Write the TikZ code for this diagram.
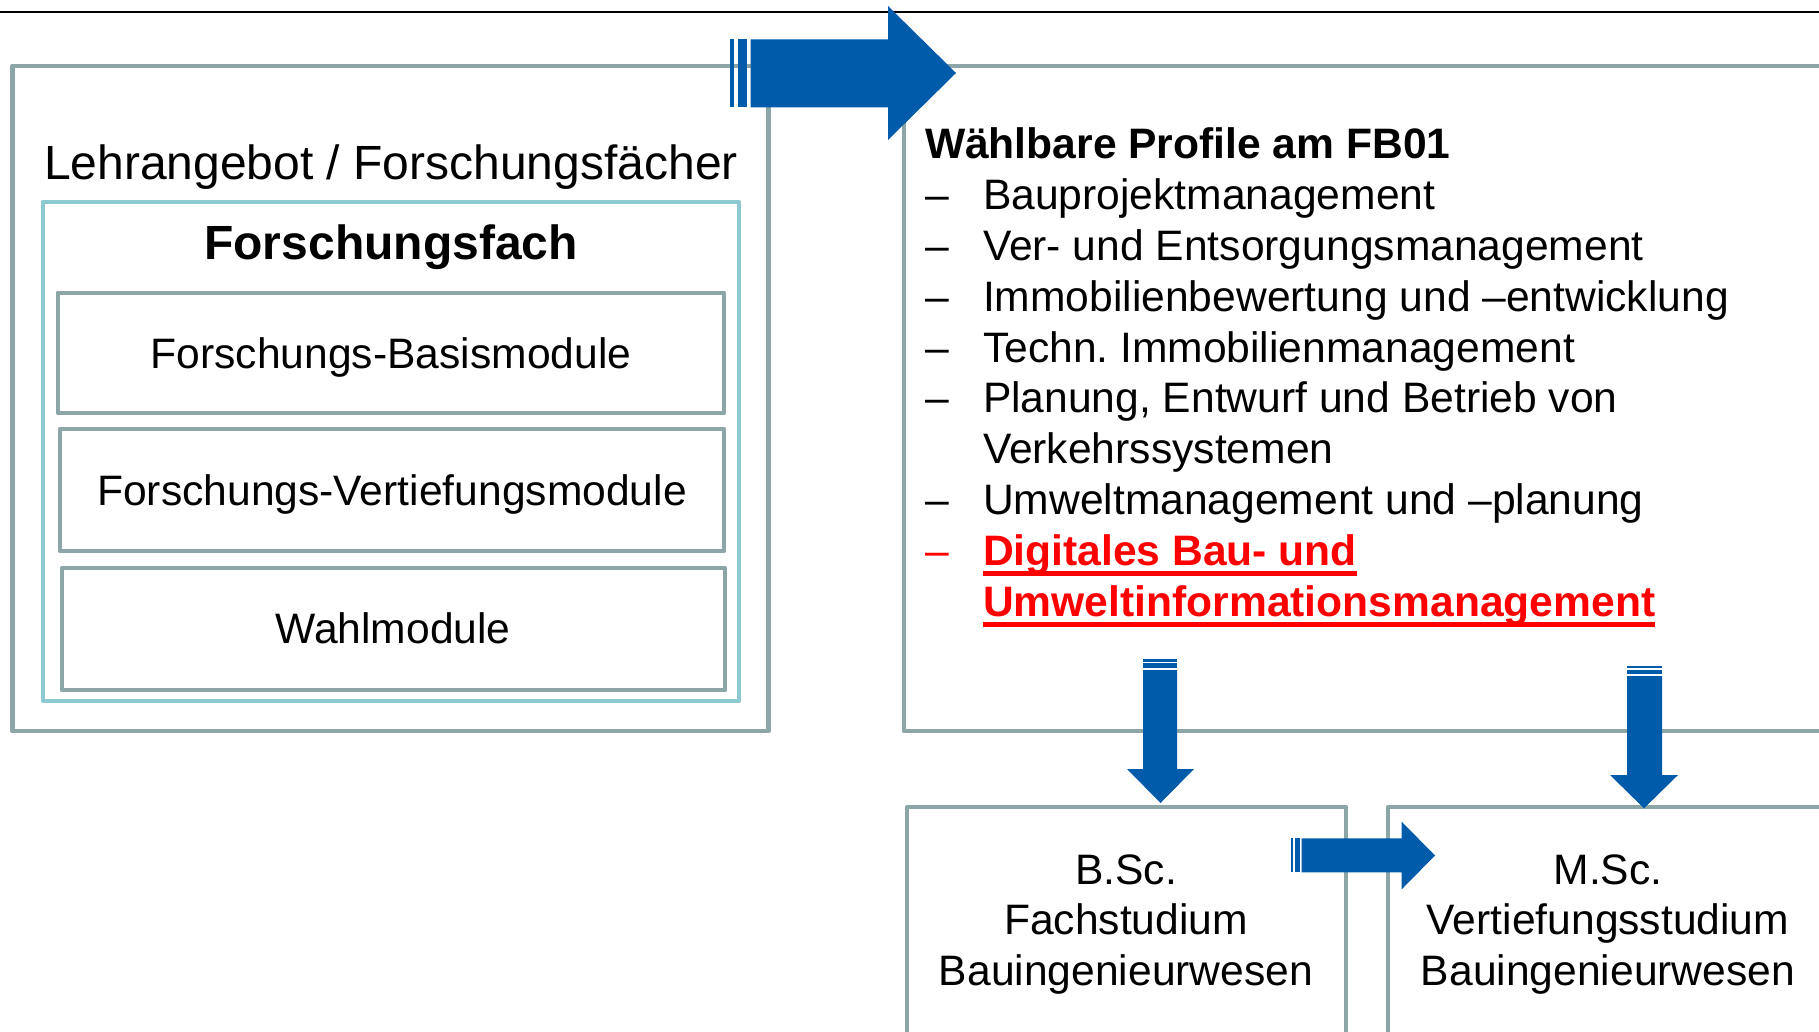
\documentclass[tikz,border=0pt]{standalone}
\usepackage{fontspec}
\setmainfont{Liberation Sans}
\frenchspacing
\definecolor{boxgray}{RGB}{140,165,166}
\definecolor{boxcyan}{RGB}{140,201,208}
\definecolor{arrowblue}{RGB}{0,91,170}
\definecolor{hired}{RGB}{255,0,0}
\tikzset{
  graybox/.style={draw=boxgray, line width=4.5pt, rectangle, inner sep=0pt, outer sep=0pt, line join=round},
  cyanbox/.style={draw=boxcyan, line width=4pt, rectangle, inner sep=0pt, outer sep=0pt, line join=round},
  txt/.style={inner sep=0pt, outer sep=0pt, font=\fontsize{42.6}{50.6}\selectfont},
  bigtxt/.style={inner sep=0pt, outer sep=0pt, font=\fontsize{48}{56}\selectfont},
  blockarrow/.style={fill=arrowblue, draw=none},
  underl/.style={draw=hired, line width=4.5pt}
}
\begin{document}
\begin{tikzpicture}[x=1pt,y=-1pt]
\useasboundingbox (0,0) rectangle (1819,1032);
\clip (0,0) rectangle (1819,1032);

% top rule
\coordinate (ruleL) at (0,12.5);
\coordinate (ruleR) at (1819,12.5);
\draw[line width=2pt] (ruleL) -- (ruleR);

% left panel
\node[graybox, minimum width=756.2pt, minimum height=665pt] (left) at (390.6,398.5) {};
\node[bigtxt, anchor=base] (lehr) at (391,180) {Lehrangebot / Forschungsfächer};
\node[cyanbox, minimum width=696.3pt, minimum height=499pt] (fach) at (390.9,451.5) {};
\node[bigtxt, anchor=base, font=\fontsize{48}{56}\selectfont\bfseries] (fachT) at (391,259.3) {Forschungsfach};
\node[graybox, minimum width=666.3pt, minimum height=120.3pt] (sub1) at (390.9,352.9) {};
\node[txt, anchor=base] (sub1T) at (391,368) {Forschungs-Basismodule};
\node[graybox, minimum width=664pt, minimum height=122pt] (sub2) at (392,490) {};
\node[txt, anchor=base] (sub2T) at (392,505) {Forschungs-Vertiefungsmodule};
\node[graybox, minimum width=663.3pt, minimum height=122pt] (sub3) at (393.4,629) {};
\node[txt, anchor=base] (sub3T) at (393,643) {Wahlmodule};

% right panel
\node[graybox, minimum width=946pt, minimum height=665pt] (right) at (1377,398.5) {};
\node[txt, anchor=base west, font=\fontsize{42.6}{50.6}\selectfont\bfseries] (head) at (925,158.3) {Wählbare Profile am FB01};
\node[txt, anchor=base west] (d1) at (925,210) {–};
\node[txt, anchor=base west] (i1) at (983,210) {Bauprojektmanagement};
\node[txt, anchor=base west] (d2) at (925,260.7) {–};
\node[txt, anchor=base west] (i2) at (983,260.7) {Ver- und Entsorgungsmanagement};
\node[txt, anchor=base west] (d3) at (925,311.4) {–};
\node[txt, anchor=base west] (i3) at (983,311.4) {Immobilienbewertung und –entwicklung};
\node[txt, anchor=base west] (d4) at (925,362.1) {–};
\node[txt, anchor=base west] (i4) at (983,362.1) {Techn. Immobilienmanagement};
\node[txt, anchor=base west] (d5) at (925,412.8) {–};
\node[txt, anchor=base west] (i5) at (983,412.8) {Planung, Entwurf und Betrieb von};
\node[txt, anchor=base west] (i5b) at (983,463.5) {Verkehrssystemen};
\node[txt, anchor=base west] (d6) at (925,514.2) {–};
\node[txt, anchor=base west] (i6) at (983,514.2) {Umweltmanagement und –planung};
\node[txt, anchor=base west, text=hired] (d7) at (925,565.5) {–};
\node[txt, anchor=base west, text=hired, font=\fontsize{42.6}{50.6}\selectfont\bfseries] (i7) at (983,565.5) {Digitales Bau- und};
\node[txt, anchor=base west, text=hired, font=\fontsize{42.6}{50.6}\selectfont\bfseries] (i7b) at (983,616.2) {Umweltinformationsmanagement};
\draw[underl] ([yshift=-8pt]i7.base west) -- ([yshift=-8pt]i7.base east);
\draw[underl] ([yshift=-8.5pt]i7b.base west) -- ([yshift=-8.5pt]i7b.base east);

% bottom boxes
\node[graybox, minimum width=439pt, minimum height=253pt] (bsc) at (1126.5,933.5) {};
\node[txt, anchor=base, align=center] (bscT) at (1126,985.5) {B.Sc.\\Fachstudium\\Bauingenieurwesen};
\node[graybox, minimum width=462pt, minimum height=253pt] (msc) at (1619,933.5) {};
\node[txt, anchor=base, align=center] (mscT) at (1608,985.5) {M.Sc.\\Vertiefungsstudium\\Bauingenieurwesen};

% top block arrow (left -> right)
\fill[blockarrow] (730,39.3) rectangle (734,107.3);
\fill[blockarrow] (737.7,39.3) rectangle (746.7,107.3);
\fill[blockarrow] (750.7,39.3) -- (888,39.3) -- (888,6) -- (956,73) -- (888,140) -- (888,107.3) -- (750.7,107.3) -- cycle;

% down arrow 1 (right -> bsc)
\fill[blockarrow] (1143,659.3) rectangle (1177,661.7);
\fill[blockarrow] (1143,663.3) rectangle (1177,667.7);
\fill[blockarrow] (1143,670) -- (1177,670) -- (1177,769) -- (1194,769) -- (1160.5,803) -- (1127,769) -- (1143,769) -- cycle;

% down arrow 2 (right -> msc)
\fill[blockarrow] (1627,665.7) rectangle (1662,667.9);
\fill[blockarrow] (1627,670) rectangle (1662,674.3);
\fill[blockarrow] (1627,676) -- (1662,676) -- (1662,775) -- (1678,775) -- (1644,808.3) -- (1610,775) -- (1627,775) -- cycle;

% right arrow (bsc -> msc)
\fill[blockarrow] (1291,838.3) rectangle (1293.3,872.3);
\fill[blockarrow] (1295,838.3) rectangle (1300,872.3);
\fill[blockarrow] (1301.7,838.3) -- (1401.7,838.3) -- (1401.7,821.7) -- (1435,855.5) -- (1401.7,889.3) -- (1401.7,872.3) -- (1301.7,872.3) -- cycle;
\end{tikzpicture}
\end{document}
